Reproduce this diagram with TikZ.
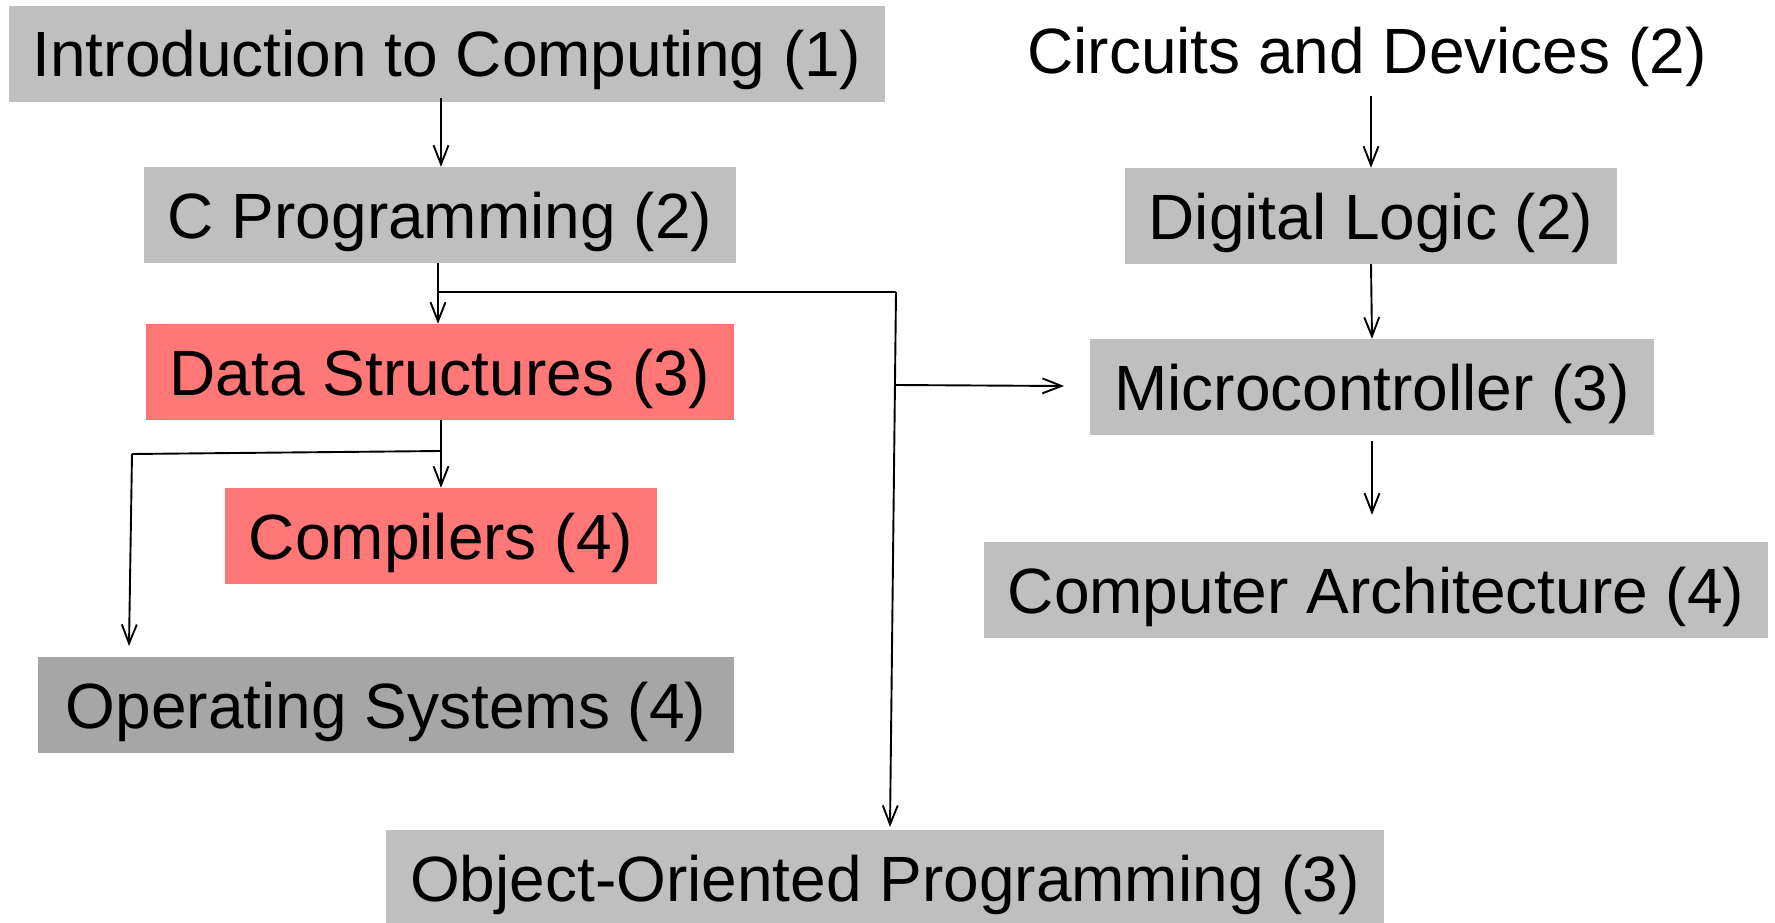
\documentclass[tikz,border=0pt]{standalone}
\usepackage{fontspec}
\setmainfont{Liberation Sans}
\usetikzlibrary{arrows.meta,positioning}

\definecolor{boxgray}{RGB}{191,191,191}
\definecolor{darkgray}{RGB}{166,166,166}
\definecolor{boxred}{RGB}{255,119,119}

\tikzset{
  course/.style={fill=boxgray, inner xsep=24pt, inner ysep=0pt,
    text height=59pt, text depth=13pt,
    minimum height=96pt, font=\fontsize{64}{70}\selectfont},
  hot/.style={course, fill=boxred},
  dim/.style={course, fill=darkgray},
  plain/.style={course, fill=none},
  link/.style={line width=1.9pt, -{Straight Barb[length=19pt,width=15pt]}},
  wire/.style={line width=1.9pt},
}

\begin{document}
\begin{tikzpicture}[x=1pt, y=-1pt]
    \useasboundingbox (0,0) rectangle (1775,923);

    % left column
    \node [course] (intro) at (447,54) {Introduction to Computing (1)};
    \node [course] (cprog) at (440,215) {C Programming (2)};
    \node [hot] (ds) at (440,372) {Data Structures (3)};
    \node [hot] (comp) at (441,536) {Compilers (4)};
    \node [dim, inner xsep=28pt] (os) at (386,705) {Operating Systems (4)};
    \node [course] (oop) at (885,878) {Object-Oriented Programming (3)};

    % right column
    \node [plain] (circ) at (1367,51) {Circuits and Devices (2)};
    \node [course] (dig) at (1371,216) {Digital Logic (2)};
    \node [course] (micro) at (1372,387) {Microcontroller (3)};
    \node [course] (arch) at (1376,590) {Computer Architecture (4)};

    % branch points
    \coordinate (introend) at (441,98);
    \coordinate (csplit) at (438,292);
    \coordinate (cright) at (896,292);
    \coordinate (cmid) at (895,385);
    \coordinate (oopend) at (890,827);
    \coordinate (microend) at (1064,386);
    \coordinate (dsplit) at (441,451);
    \coordinate (dleft) at (132,454);
    \coordinate (osend) at (129,646);
    \coordinate (circend) at (1371,96);
    \coordinate (archstart) at (1372,441);

    \draw [link] (introend) -- (introend |- cprog.north);
    \draw [link] (cprog.south -| csplit) -- (ds.north -| csplit);
    \draw [wire] (csplit) -- (cright);
    \draw [link] (cright) -- (oopend);
    \draw [link] (cmid) -- (microend);
    \draw [link] (ds.south -| dsplit) -- (comp.north -| dsplit);
    \draw [wire] (dsplit) -- (dleft);
    \draw [link] (dleft) -- (osend);

    \draw [link] (circend) -- (dig.north -| circend);
    \draw [link] (dig.south -| circend) -- (micro.north -| archstart);
    \draw [link, shorten >=27pt] (archstart) -- (arch.north -| archstart);
\end{tikzpicture}
\end{document}
